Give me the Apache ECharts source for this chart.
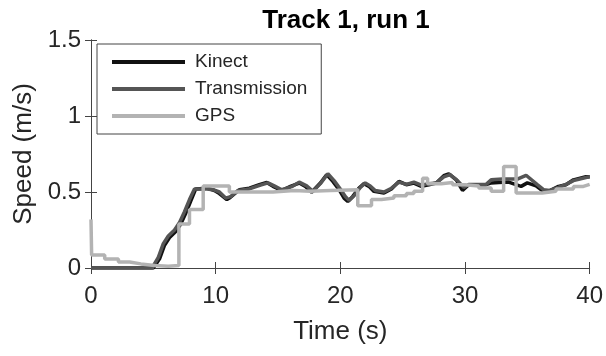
<!DOCTYPE html>
<html>
<head>
<meta charset="utf-8">
<script src="https://cdn.jsdelivr.net/npm/echarts@6/dist/echarts.min.js"></script>
<style>
  html, body { margin: 0; padding: 0; background: #fff; }
  #chart { width: 606px; height: 356px; }
</style>
</head>
<body>
<div id="chart"></div>
<script>
// time (s) and speed (m/s)
var kinectT = [0, 5.0, 5.5, 5.9, 6.3, 6.8, 7.2, 7.6, 8.0, 8.4, 9.3, 9.9, 10.3, 10.9, 11.1, 11.9, 12.7, 13.5, 14.1, 14.6, 15.3, 16.0, 16.7, 17.2, 17.7, 18.4, 18.9, 19.4, 19.9, 20.3, 20.6, 21.0, 21.5, 21.9, 22.3, 22.7, 23.5, 24.1, 24.7, 25.3, 25.9, 26.5, 27.1, 27.7, 28.3, 28.7, 29.3, 29.8, 30.3, 31.7, 32.1, 32.7, 33.5, 34.5, 35.0, 35.7, 36.2, 36.7, 37.5, 38.1, 38.7, 39.7, 40];
var kinectV = [0, 0, 0.06, 0.15, 0.2, 0.24, 0.29, 0.36, 0.44, 0.52, 0.525, 0.51, 0.49, 0.45, 0.46, 0.515, 0.525, 0.548, 0.563, 0.537, 0.51, 0.537, 0.559, 0.537, 0.498, 0.559, 0.614, 0.57, 0.515, 0.46, 0.438, 0.471, 0.526, 0.555, 0.537, 0.504, 0.493, 0.52, 0.57, 0.548, 0.559, 0.537, 0.548, 0.559, 0.607, 0.62, 0.58, 0.51, 0.548, 0.548, 0.56, 0.563, 0.565, 0.537, 0.56, 0.54, 0.51, 0.504, 0.537, 0.548, 0.58, 0.6, 0.6];

var transT = [0, 4.9, 5.4, 5.8, 6.2, 6.7, 7.1, 7.5, 7.9, 8.3, 9.3, 9.8, 10.3, 10.8, 11.2, 11.8, 12.7, 13.6, 14.2, 14.7, 15.3, 16.1, 16.7, 17.3, 17.8, 18.4, 19.0, 19.5, 20.0, 20.4, 20.7, 21.1, 21.6, 22.0, 22.4, 22.8, 23.5, 24.1, 24.7, 25.3, 25.9, 26.5, 27.1, 27.7, 28.3, 28.8, 29.4, 29.9, 30.3, 31.7, 32.1, 33.0, 34.2, 34.9, 35.8, 36.3, 36.8, 37.5, 38.1, 38.7, 39.7, 40];
var transV = [0, 0, 0.07, 0.16, 0.21, 0.25, 0.3, 0.37, 0.45, 0.52, 0.52, 0.515, 0.5, 0.46, 0.47, 0.51, 0.52, 0.545, 0.56, 0.54, 0.515, 0.535, 0.565, 0.54, 0.505, 0.555, 0.62, 0.575, 0.52, 0.47, 0.445, 0.475, 0.53, 0.56, 0.54, 0.51, 0.5, 0.525, 0.565, 0.55, 0.565, 0.545, 0.555, 0.56, 0.6, 0.615, 0.575, 0.53, 0.55, 0.55, 0.58, 0.585, 0.585, 0.61, 0.548, 0.515, 0.51, 0.53, 0.55, 0.575, 0.595, 0.6];

var gpsT = [0, 0.05, 1.1, 2.2, 3.1, 4.0, 5.1, 6.2, 7.05, 7.9, 9.0, 11.1, 14.6, 16.3, 17.6, 19.2, 21.4, 22.5, 23.3, 24.3, 25.3, 25.9, 26.6, 27.0, 28.1, 29.0, 30.0, 31.1, 32.1, 33.1, 34.1, 36.2, 37.3, 38.7, 39.5, 40];
var gpsV = [0.32, 0.085, 0.06, 0.04, 0.027, 0.016, 0.012, 0.016, 0.29, 0.385, 0.54, 0.5, 0.51, 0.505, 0.51, 0.515, 0.41, 0.45, 0.46, 0.476, 0.49, 0.505, 0.59, 0.555, 0.563, 0.548, 0.54, 0.526, 0.505, 0.668, 0.493, 0.505, 0.52, 0.537, 0.55, 0.55];

function pairs(t, v) {
  return t.map(function (x, i) { return [x, v[i]]; });
}

var font = 'Liberation Sans, Arial, sans-serif';
var frame = '#444';
var txt = '#262626';

var chart = echarts.init(document.getElementById('chart'));

var xBase = {
  type: 'value', min: 0, max: 40, interval: 10,
  axisLine: { show: true, lineStyle: { color: frame, width: 1 } },
  axisTick: { show: true, inside: true, length: 6, lineStyle: { color: frame } },
  splitLine: { show: false }
};
var yBase = {
  type: 'value', min: 0, max: 1.5, interval: 0.5,
  axisLine: { show: true, lineStyle: { color: frame, width: 1 } },
  axisTick: { show: true, inside: true, length: 6, lineStyle: { color: frame } },
  splitLine: { show: false }
};

var option = {
  animation: false,
  title: {
    text: 'Track 1, run 1',
    left: 341, top: 3, textAlign: 'center',
    textStyle: { fontFamily: font, fontSize: 26, fontWeight: 'bold', color: '#000' }
  },
  grid: { left: 91, right: 16, top: 40, bottom: 88 },
  legend: {
    orient: 'vertical',
    left: 97, top: 44,
    padding: [7, 14, 7, 15],
    itemGap: 5,
    icon: 'rect',
    itemWidth: 73, itemHeight: 4,
    borderColor: frame, borderWidth: 1, borderRadius: 0,
    backgroundColor: '#fff',
    textStyle: { fontFamily: font, fontSize: 19, color: txt, lineHeight: 22, padding: [0, 0, 0, 5] },
    data: ['Kinect', 'Transmission', 'GPS']
  },
  xAxis: [
    Object.assign({}, xBase, {
      position: 'bottom',
      name: 'Time (s)', nameLocation: 'middle', nameGap: 51,
      nameTextStyle: { fontFamily: font, fontSize: 26, color: txt },
      axisLabel: { fontFamily: font, fontSize: 24, color: txt, margin: 16 }
    }),
    Object.assign({}, xBase, { position: 'top', axisLabel: { show: false } })
  ],
  yAxis: [
    Object.assign({}, yBase, {
      position: 'left',
      name: 'Speed (m/s)', nameLocation: 'middle', nameGap: 52,
      nameTextStyle: { fontFamily: font, fontSize: 26, color: txt },
      axisLabel: { fontFamily: font, fontSize: 24, color: txt, margin: 10 }
    }),
    Object.assign({}, yBase, { position: 'right', axisLabel: { show: false } })
  ],
  series: [
    {
      name: 'Kinect', type: 'line', symbol: 'none', color: '#111111',
      lineStyle: { width: 3.5, color: '#111111' },
      data: pairs(kinectT, kinectV)
    },
    {
      name: 'Transmission', type: 'line', symbol: 'none', color: '#555555',
      lineStyle: { width: 3.5, color: '#555555' },
      data: pairs(transT, transV)
    },
    {
      name: 'GPS', type: 'line', symbol: 'none', step: 'end', color: '#b3b3b3',
      lineStyle: { width: 3.5, color: '#b3b3b3' },
      data: pairs(gpsT, gpsV)
    }
  ]
};

chart.setOption(option);
</script>
</body>
</html>
